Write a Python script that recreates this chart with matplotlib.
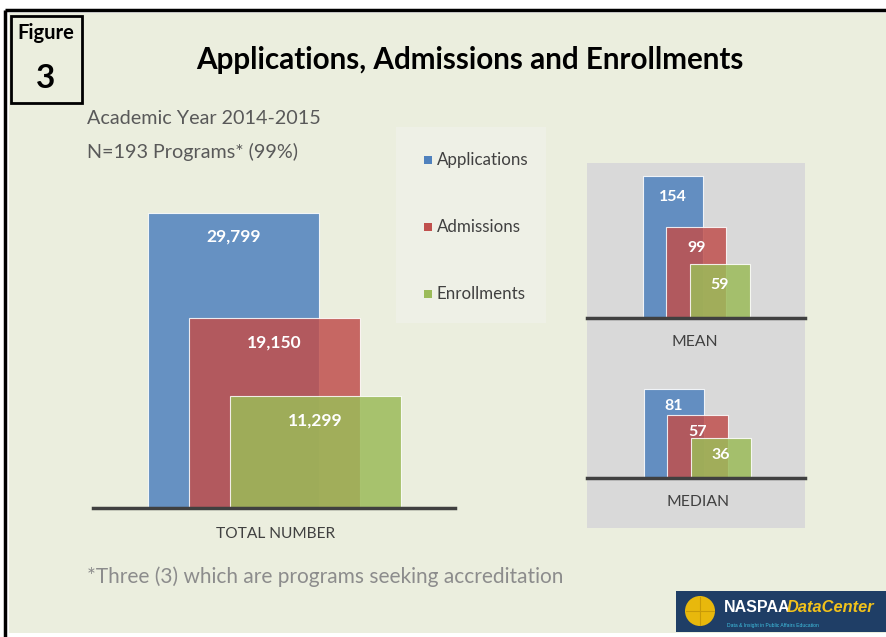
import matplotlib.pyplot as plt
from matplotlib.patches import Rectangle, Circle

plt.rcParams['font.family'] = ['Lato', 'DejaVu Sans']

# data ------------------------------------------------------------------------
series = ["Applications", "Admissions", "Enrollments"]
colors = ["#4F81BD", "#C0504D", "#9BBB59"]
total_vals = [29799, 19150, 11299]
mean_vals = [154, 99, 59]
median_vals = [81, 57, 36]

title = "Applications, Admissions and Enrollments"
sub1 = "Academic Year 2014-2015"
sub2 = "N=193 Programs* (99%)"
note = "*Three (3) which are programs seeking accreditation"

W, H = 886, 637
BG = "#EBEEDE"
DARK = "#404040"


def box(left, top, right, bottom):
    # pixel box -> figure fraction
    return [left / W, 1 - bottom / H, (right - left) / W, (bottom - top) / H]


fig = plt.figure(figsize=(W / 100, H / 100), dpi=100)
fig.patch.set_facecolor("white")

# background / decorations ----------------------------------------------------
bg = fig.add_axes([0, 0, 1, 1])
bg.set_xlim(0, W)
bg.set_ylim(H, 0)
bg.axis("off")
bg.add_patch(Rectangle((9, 13), W - 9, 620, color=BG, lw=0))
bg.plot([5, W], [10, 10], color="black", lw=2.5, solid_capstyle="butt")
bg.plot([5, 5], [10, H], color="black", lw=2.5, solid_capstyle="butt")

# figure number box
bg.add_patch(Rectangle((11, 16), 71, 87, fill=False, ec="black", lw=2))
bg.text(46, 33, "Figure", ha="center", va="center", fontsize=14.5, fontweight="bold")
bg.text(46, 78, "3", ha="center", va="center", fontsize=24, fontweight="bold")

bg.text(470, 60, title, ha="center", va="center", fontsize=21.3, fontweight="bold", color="black")
bg.text(87, 119, sub1, ha="left", va="center", fontsize=14.2, color="#595959")
bg.text(87, 152, sub2, ha="left", va="center", fontsize=14.2, color="#595959")
bg.text(87, 577, note, ha="left", va="center", fontsize=15, color="#8C8C8C")

# legend panel
bg.add_patch(Rectangle((396, 127), 150, 196, color="#EEF0E6", lw=0))
for i, (name, c) in enumerate(zip(series, colors)):
    y = 160 + i * 67
    bg.add_patch(Rectangle((424, y - 4), 8, 8, color=c, lw=0))
    bg.text(437, y, name, ha="left", va="center", fontsize=12.2, color=DARK)

# grey panel for mean / median
bg.add_patch(Rectangle((587, 163), 218, 365, color="#D9D9D9", lw=0))
bg.text(276, 534, "TOTAL NUMBER", ha="center", va="center", fontsize=11.2, color=DARK)
bg.text(695, 342, "MEAN", ha="center", va="center", fontsize=11.3, color=DARK)
bg.text(698, 502, "MEDIAN", ha="center", va="center", fontsize=11.3, color=DARK)

# logo
bg.add_patch(Rectangle((676, 591), 210, 41, color="#1F3E66", lw=0))
bg.add_patch(Circle((700, 611), 15, color="#E8B80C", lw=0))
bg.plot([686, 714], [611, 611], color="#C89A08", lw=0.8)
bg.plot([700, 700], [597, 625], color="#C89A08", lw=0.8)
bg.text(724, 608, "NASPAA", ha="left", va="center", fontsize=11.5, fontweight="bold",
        color="white", family=["Liberation Sans"])
bg.text(787, 608, "DataCenter", ha="left", va="center", fontsize=11.8, fontstyle="italic",
        fontweight="bold", color="#F2C21B", family=["Liberation Sans"])
bg.text(727, 625, "Data & Insight in Public Affairs Education", ha="left", va="center",
        fontsize=3.6, color="#3FC0E0", family=["Liberation Sans"])


# bar panels ------------------------------------------------------------------
def panel(rect, vals, xlim, ylim, step, lab_off, fs):
    ax = fig.add_axes(rect)
    ax.patch.set_alpha(0)
    for i, (v, c) in enumerate(zip(vals, colors)):
        ax.bar(i * step, v, width=1, align="edge", color=c, alpha=0.85,
               edgecolor=(1, 1, 1, 0.45), lw=0.8, zorder=2 + i)
        ax.annotate(f"{v:,}", (i * step + 0.5, v), xytext=(0, -lab_off), textcoords="offset pixels",
                    ha="center", va="center", color="white", fontsize=fs, fontweight="bold",
                    zorder=10)
    ax.axhline(0, color=DARK, lw=2.5, zorder=20, clip_on=False)
    ax.set_xlim(*xlim)
    ax.set_ylim(*ylim)
    ax.axis("off")
    return ax


panel(box(93, 200, 455, 508), total_vals, (-0.322, 1.795), (0, 31100), 0.24, 24, 12.5)
panel(box(587, 163, 805, 318), mean_vals, (-0.933, 2.70), (0, 168), 0.39, 21, 11.5)
panel(box(587, 370, 805, 478), median_vals, (-0.95, 2.68), (0, 98.3), 0.39, 17, 11.5)

fig.savefig("out.png", dpi=100, facecolor=fig.get_facecolor())
